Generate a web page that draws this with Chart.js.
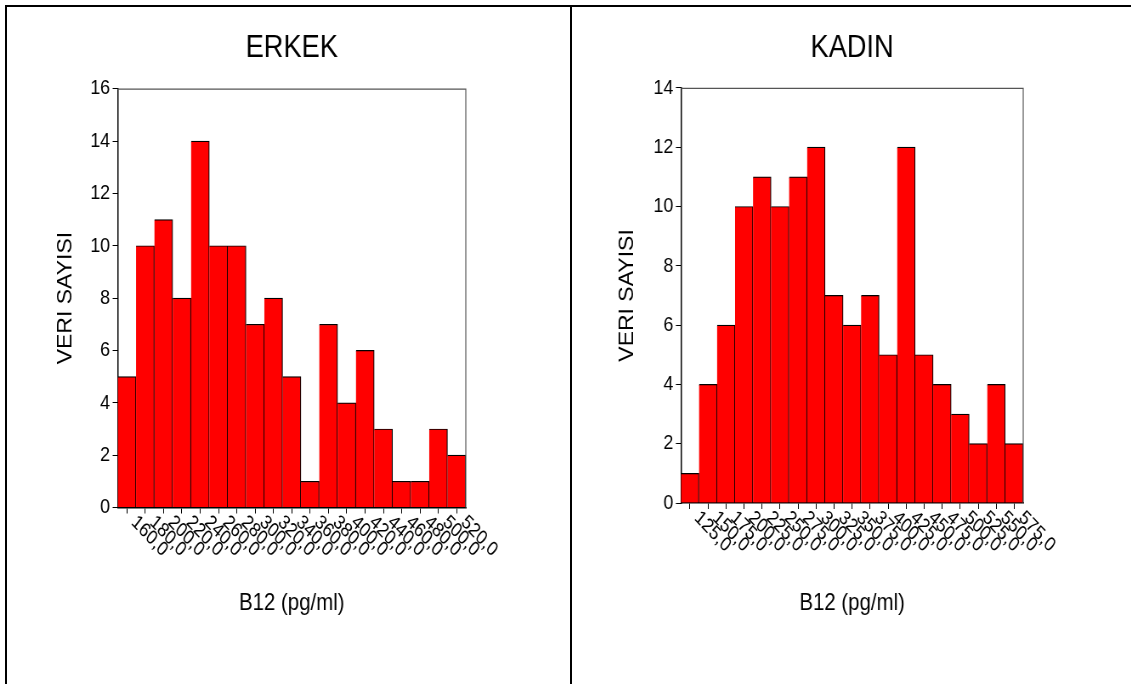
<!DOCTYPE html>
<html>
<head>
<meta charset="utf-8">
<script src="https://cdn.jsdelivr.net/npm/chart.js@4.4.1/dist/chart.umd.min.js"></script>
<style>
  html, body { margin: 0; padding: 0; background: #fff; }
  body { width: 1131px; height: 684px; position: relative; overflow: hidden; }
  .line { position: absolute; background: #000; }
  .panel { position: absolute; top: 0; height: 684px; transform-origin: 0 0; transform: scaleX(0.85); }
  canvas { display: block; }
</style>
</head>
<body>
<div class="line" style="left:5px; top:5px; width:1126px; height:2px"></div>
<div class="line" style="left:5px; top:5px; width:2px; height:679px"></div>
<div class="line" style="left:570px; top:5px; width:2px; height:679px"></div>
<div class="panel" style="left:0; width:672px"><canvas id="erkekChart" width="672" height="684"></canvas></div>
<div class="panel" style="left:571px; width:659px"><canvas id="kadinChart" width="659" height="684"></canvas></div>

<script>
const FONT = "'Liberation Sans', Arial, sans-serif";

const erkekLabels = ['160,0', '180,0', '200,0', '220,0', '240,0', '260,0', '280,0', '300,0', '320,0', '340,0',
    '360,0', '380,0', '400,0', '420,0', '440,0', '460,0', '480,0', '500,0', '520,0'];
const erkekCounts = [5, 10, 11, 8, 14, 10, 10, 7, 8, 5, 1, 7, 4, 6, 3, 1, 1, 3, 2];

const kadinLabels = ['125,0', '150,0', '175,0', '200,0', '225,0', '250,0', '275,0', '300,0', '325,0', '350,0',
    '375,0', '400,0', '425,0', '450,0', '475,0', '500,0', '525,0', '550,0', '575,0'];
const kadinCounts = [1, 4, 6, 10, 11, 10, 11, 12, 7, 6, 7, 5, 12, 5, 4, 3, 2, 4, 2];

const yTicksErkek = { max: 16, step: 2 };
const yTicksKadin = { max: 14, step: 2 };

Chart.defaults.font.family = FONT;
Chart.defaults.color = '#000';

// x labels run downwards to the right, which chart.js can't rotate that way
const slantedLabels = {
    id: 'slantedLabels',
    afterDraw(chart) {
        const xs = chart.scales.x;
        const ctx = chart.ctx;
        ctx.save();
        ctx.font = '20px ' + FONT;
        ctx.fillStyle = '#000';
        ctx.textAlign = 'left';
        ctx.textBaseline = 'middle';
        xs.ticks.forEach((t, i) => {
            const x = xs.getPixelForTick(i);
            ctx.save();
            ctx.translate(x + 8, xs.top + 12);
            ctx.rotate(42 * Math.PI / 180);
            ctx.fillText(xs.getLabelForValue(t.value), 0, 0);
            ctx.restore();
        });
        ctx.restore();
    }
};

const plotFrame = {
    id: 'plotFrame',
    afterDatasetsDraw(chart) {
        const a = chart.chartArea;
        const ctx = chart.ctx;
        ctx.save();
        ctx.strokeStyle = '#555';
        ctx.lineWidth = 1.2;
        ctx.beginPath();
        ctx.moveTo(a.left, a.top + 0.5);
        ctx.lineTo(a.right, a.top + 0.5);
        ctx.lineTo(a.right, a.bottom);
        ctx.stroke();
        ctx.restore();
    }
};

function makeChart(id, title, labels, counts, yTicks, box) {
    const ctx = document.getElementById(id).getContext('2d');
    return new Chart(ctx, {
        type: 'bar',
        data: {
            labels: labels,
            datasets: [{
                data: counts,
                backgroundColor: '#ff0000',
                borderColor: '#000',
                borderWidth: { top: 1.2, right: 1.2, left: 0, bottom: 0 },
                borderSkipped: false,
                barPercentage: 1.0,
                categoryPercentage: 1.0
            }]
        },
        options: {
            responsive: false,
            animation: false,
            layout: { padding: { left: 0, right: box.padRight, top: 0, bottom: 0 } },
            plugins: {
                legend: { display: false },
                tooltip: { enabled: false },
                title: {
                    display: true,
                    text: title,
                    fullSize: false,
                    color: '#000',
                    font: { size: 32, weight: 'normal' },
                    padding: { top: box.titleTop, bottom: box.titleBottom }
                }
            },
            scales: {
                x: {
                    offset: true,
                    grid: { display: true, offset: false, drawOnChartArea: false, drawTicks: true, tickLength: 6, color: '#000' },
                    border: { display: true, color: '#000', width: 1.5 },
                    ticks: { display: false },
                    title: {
                        display: true,
                        text: 'B12 (pg/ml)',
                        color: '#000',
                        font: { size: 24 },
                        padding: { top: 0, bottom: 66 }
                    },
                    afterFit(scale) { scale.height = box.axisHeight; }
                },
                y: {
                    min: 0,
                    max: yTicks.max,
                    grid: { display: true, drawOnChartArea: false, drawTicks: true, tickLength: 6, color: '#000' },
                    border: { display: true, color: '#000', width: 1.5 },
                    ticks: { stepSize: yTicks.step, font: { size: 21 }, color: '#000', padding: 3 },
                    title: {
                        display: true,
                        text: 'VERI SAYISI',
                        color: '#000',
                        font: { size: 23 },
                        padding: { top: box.yTitlePad, bottom: 0 }
                    },
                    afterFit(scale) { scale.width = box.areaLeft; }
                }
            }
        },
        plugins: [plotFrame, slantedLabels]
    });
}

makeChart('erkekChart', 'ERKEK', erkekLabels, erkekCounts, yTicksErkek,
    { areaLeft: 138.5, padRight: 124, titleTop: 29, titleBottom: 21.3, axisHeight: 176.5, yTitlePad: 63.8 });
makeChart('kadinChart', 'KADIN', kadinLabels, kadinCounts, yTicksKadin,
    { areaLeft: 129.4, padRight: 127, titleTop: 29, titleBottom: 20.5, axisHeight: 181, yTitlePad: 53.2 });
</script>
</body>
</html>
